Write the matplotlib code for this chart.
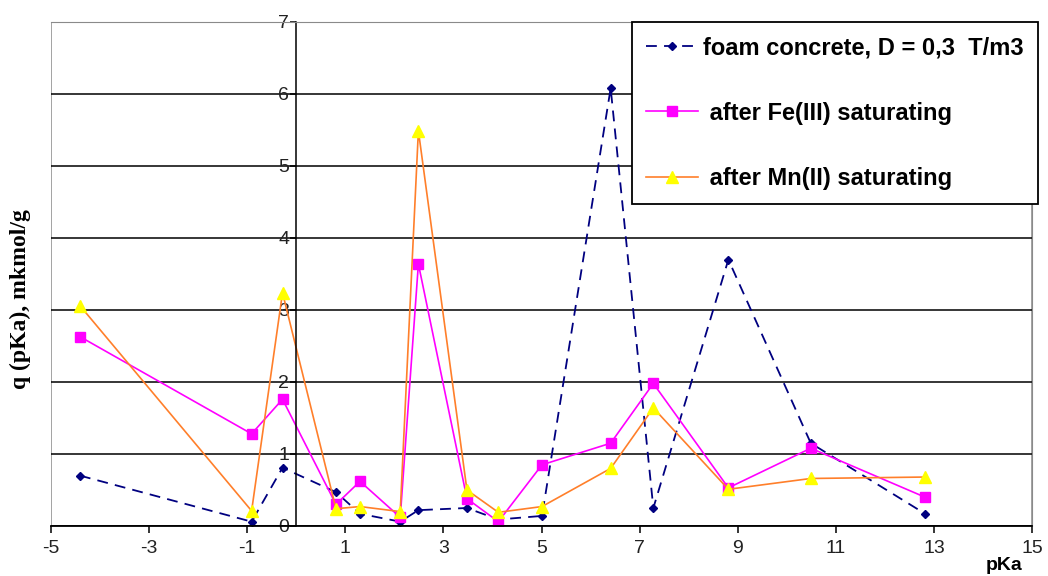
import matplotlib.pyplot as plt
from matplotlib.patches import Rectangle

# pKa of the indicators
pka = [-4.41, -0.91, -0.28, 0.81, 1.30, 2.12, 2.49, 3.48, 4.12, 5.01, 6.41, 7.28, 8.81, 10.49, 12.82]

# q(pKa), mkmol/g
foam = [0.70, 0.06, 0.81, 0.47, 0.17, 0.06, 0.22, 0.25, 0.09, 0.14, 6.08, 0.25, 3.70, 1.15, 0.17]
fe3 = [2.63, 1.28, 1.76, 0.30, 0.62, 0.12, 3.64, 0.38, 0.06, 0.85, 1.15, 1.98, 0.53, 1.08, 0.40]
mn2 = [3.06, 0.21, 3.24, 0.24, 0.27, 0.20, 5.49, 0.50, 0.19, 0.27, 0.80, 1.64, 0.51, 0.66, 0.68]

labels = ['foam concrete, D = 0,3  T/m3', ' after Fe(III) saturating', ' after Mn(II) saturating']
xticks = list(range(-5, 16, 2))
yticks = list(range(0, 8))

plt.rcParams['font.family'] = ['Liberation Sans', 'DejaVu Sans']
plt.rcParams['axes.unicode_minus'] = False

fig = plt.figure(figsize=(10.48, 5.76), dpi=100)
ax = fig.add_axes([51/1048, 1 - 526/576, 981/1048, 504/576])

ax.plot(pka, foam, color='#000080', linestyle=(0, (6, 4)), linewidth=1.3,
        marker='D', markersize=4, label=labels[0])
ax.plot(pka, fe3, color='#FF00FF', linewidth=1.2,
        marker='s', markersize=7, label=labels[1])
ax.plot(pka, mn2, color='#FF7F2A', linewidth=1.2,
        marker='^', markersize=8, markerfacecolor='#FFFF00', markeredgecolor='#FFFF00',
        label=labels[2])

ax.set_xlim(-5, 15)
ax.set_ylim(0, 7)
ax.set_xticks(xticks)
ax.set_yticks(yticks)
ax.yaxis.grid(True, color='black', linewidth=1.1)
ax.set_axisbelow(True)

# y axis crosses at pKa = 0, gray outer frame
ax.spines['left'].set_position(('data', 0))
ax.spines['left'].set_color('black')
ax.spines['left'].set_linewidth(1.1)
ax.spines['top'].set_color('#8a8a8a')
ax.spines['right'].set_color('#8a8a8a')
ax.spines['bottom'].set_linewidth(1.3)
ax.add_patch(Rectangle((0, 0), 1, 1, transform=ax.transAxes, fill=False,
                       edgecolor='#8a8a8a', linewidth=1.1, zorder=0.5))

ax.tick_params(axis='x', direction='out', length=5, width=1.1, labelsize=14,
               labelcolor='#222222', pad=5)
ax.tick_params(axis='y', direction='out', length=4, width=1.1, labelsize=14,
               labelcolor='#222222', pad=1)
for lab in ax.get_yticklabels():
    lab.set_verticalalignment('center_baseline')

ax.set_ylabel('q (pKa), mkmol/g', family='Liberation Serif', fontweight='bold', fontsize=17)
ax.yaxis.set_label_coords(-0.02, 0.45)
ax.set_xlabel('pKa', fontweight='bold', fontsize=14)
ax.xaxis.set_label_coords(0.972, -0.062)

leg = ax.legend(loc='upper left', bbox_to_anchor=(632/1048, 1 - 22/576),
                bbox_transform=fig.transFigure, borderaxespad=0,
                prop={'family': 'Liberation Sans', 'weight': 'bold', 'size': 17},
                fancybox=False, framealpha=1, edgecolor='black',
                handlelength=2.2, handletextpad=0.2, labelspacing=1.8,
                borderpad=0.6)
leg.get_frame().set_linewidth(1.3)

fig.savefig('out.png', dpi=100)
